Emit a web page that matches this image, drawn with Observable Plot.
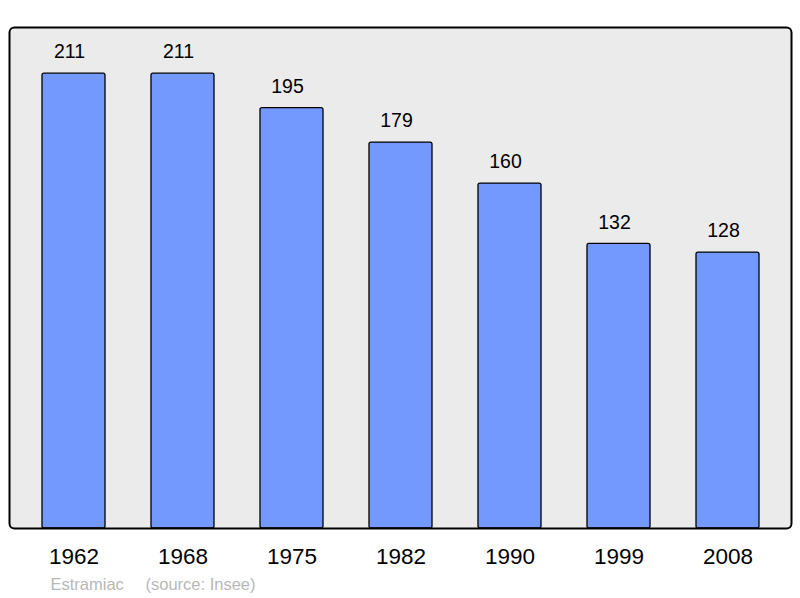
<!DOCTYPE html>
<html>
<head>
<meta charset="utf-8">
<script src="https://cdn.jsdelivr.net/npm/d3@7"></script>
<script src="https://cdn.jsdelivr.net/npm/@observablehq/plot@0.6"></script>
<style>
  html, body { margin: 0; padding: 0; background: #ffffff; }
  #chart svg { display: block; }
</style>
</head>
<body>
<div id="chart"></div>
<script>
const years = ["1962", "1968", "1975", "1982", "1990", "1999", "2008"];
const population = [211, 211, 195, 179, 160, 132, 128];
const commune = "Estramiac";
const source = "(source: Insee)";

const data = years.map((y, i) => ({year: y, pop: population[i]}));
const font = "'Liberation Sans', Arial, sans-serif";

const chart = Plot.plot({
  width: 800,
  height: 598,
  marginLeft: 18,
  marginRight: 16.6,
  marginTop: 27,
  marginBottom: 70,
  style: {fontFamily: font, background: "#ffffff"},
  x: {domain: years, paddingInner: 0.425, paddingOuter: 0.2125, axis: null},
  y: {domain: [0, 232.4], axis: null},
  marks: [
    Plot.frame({fill: "#ebebeb", stroke: "none", insetLeft: -9, insetRight: -7.6}),
    Plot.barY(data, {x: "year", y: "pop", fill: "#7399ff", stroke: "#000000", strokeWidth: 1.3, rx: 2}),
    Plot.frame({fill: "none", stroke: "#000000", strokeWidth: 2, rx: 5, insetLeft: -9, insetRight: -7.6}),
    Plot.text(data, {x: "year", y: "pop", text: d => String(d.pop), dx: -4.5, dy: -21.5, fontSize: 19.5, fill: "#000000"}),
    Plot.text(data, {x: "year", text: "year", frameAnchor: "bottom", lineAnchor: "middle", dy: 28.7, fontSize: 22.5, fill: "#000000"}),
    Plot.text([commune], {text: d => d, frameAnchor: "bottom-left", lineAnchor: "middle", dx: 32, dy: 56, fontSize: 16.5, fill: "#b8b8b8", textAnchor: "start"}),
    Plot.text([source], {text: d => d, frameAnchor: "bottom-left", lineAnchor: "middle", dx: 127, dy: 56, fontSize: 16.5, fill: "#b8b8b8", textAnchor: "start"})
  ]
});
document.getElementById("chart").appendChild(chart);
</script>
</body>
</html>
